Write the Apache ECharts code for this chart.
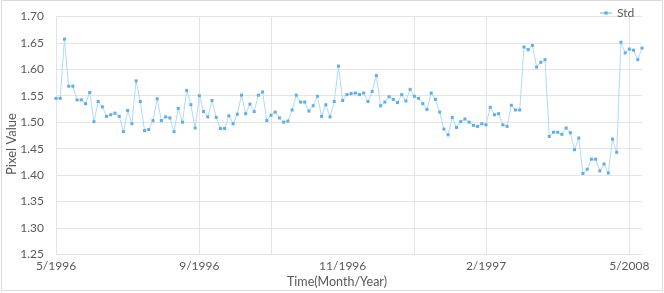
<!DOCTYPE html>
<html><head><meta charset="utf-8">
<script src="https://cdn.jsdelivr.net/npm/echarts@6/dist/echarts.min.js"></script>
<style>html,body{margin:0;padding:0;background:#fff}#c{width:664px;height:293px}</style>
</head><body><div id="c"></div>
<script>
const seriesName = 'Std';
const stdValues = [
1.545,1.545,1.657,1.568,1.568,1.542,1.542,1.535,1.556,1.501,
1.539,1.529,1.511,1.514,1.517,1.511,1.482,1.522,1.497,1.578,
1.539,1.484,1.486,1.503,1.544,1.503,1.510,1.508,1.482,1.526,
1.500,1.560,1.533,1.489,1.550,1.520,1.510,1.541,1.509,1.488,
1.488,1.512,1.497,1.515,1.551,1.516,1.534,1.520,1.551,1.557,
1.503,1.513,1.519,1.508,1.500,1.502,1.523,1.551,1.538,1.538,
1.521,1.531,1.549,1.511,1.533,1.510,1.539,1.606,1.541,1.552,
1.554,1.555,1.552,1.555,1.539,1.558,1.588,1.531,1.538,1.548,
1.543,1.537,1.552,1.540,1.562,1.549,1.545,1.535,1.524,1.555,
1.543,1.519,1.487,1.476,1.509,1.490,1.501,1.506,1.500,1.494,
1.492,1.497,1.495,1.528,1.514,1.516,1.495,1.492,1.532,1.523,
1.523,1.642,1.637,1.645,1.604,1.613,1.618,1.473,1.481,1.481,
1.477,1.489,1.480,1.448,1.470,1.403,1.411,1.430,1.430,1.408,
1.421,1.404,1.468,1.443,1.651,1.631,1.638,1.636,1.618,1.640
];
const tickLabels = ['5/1996','9/1996','11/1996','2/1997','5/2008'];
const tickPositions = [0,34,68,102,136];
const gridPositions = [0,34,51,85,102,136];
const yTicks = [1.25,1.30,1.35,1.40,1.45,1.50,1.55,1.60,1.65,1.70];
const xTitle = 'Time(Month/Year)';
const yTitle = 'Pixel Value';

const categories = stdValues.map((v,i)=>{
  const k = tickPositions.indexOf(i);
  return k >= 0 ? tickLabels[k] : String(i);
});

const FONT = 'Lato, "Open Sans", sans-serif';
const TXT = '#595959';
const GRID = '#e4e4e4';

const chart = echarts.init(document.getElementById('c'), null, {renderer:'canvas'});
chart.setOption({
  animation:false,
  backgroundColor:'#fff',
  textStyle:{fontFamily:FONT},
  grid:{left:56, right:22, top:16.3, bottom:38.5, containLabel:false},
  legend:{
    data:[seriesName], left:594, top:2, itemWidth:12, itemHeight:4, itemGap:4,
    textStyle:{color:TXT, fontSize:12, fontFamily:FONT}
  },
  xAxis:{
    type:'category', data:categories, boundaryGap:false,
    axisLine:{show:true, lineStyle:{color:GRID, width:1}},
    axisTick:{show:false},
    axisLabel:{
      color:TXT, fontSize:12, fontFamily:FONT, margin:6,
      interval:(i)=>tickPositions.indexOf(i)>=0,
      hideOverlap:false
    },
    splitLine:{show:true, interval:(i)=>gridPositions.indexOf(i)>=0, lineStyle:{color:GRID, width:1}}
  },
  yAxis:{
    type:'value', min:yTicks[0], max:yTicks[yTicks.length-1], interval:0.05,
    axisLine:{show:true, lineStyle:{color:GRID}},
    axisTick:{show:false},
    axisLabel:{color:TXT, fontSize:12, fontFamily:FONT, margin:12, formatter:(v)=>v.toFixed(2)},
    splitLine:{show:true, lineStyle:{color:GRID, width:1}}
  },
  series:[{
    name:seriesName, type:'line', data:stdValues,
    symbol:'rect', symbolSize:3, showAllSymbol:true,
    lineStyle:{color:'#b0dbf8', width:1},
    itemStyle:{color:'#5aaef0'},
    emphasis:{disabled:true}
  }],
  graphic:[
    {type:'rect', shape:{x:1.5, y:0.5, width:661, height:290}, style:{fill:null, stroke:'#d9d9d9', lineWidth:1}, silent:true, z:-1},
    {type:'text', x:337, y:282, style:{text:xTitle, fill:TXT, fontSize:12.5, fontFamily:FONT, textAlign:'center', textVerticalAlign:'middle'}},
    {type:'text', x:11.5, y:144, rotation:Math.PI/2, style:{text:yTitle, fill:TXT, fontSize:13, fontFamily:FONT, textAlign:'center', textVerticalAlign:'middle'}}
  ]
});
</script></body></html>
